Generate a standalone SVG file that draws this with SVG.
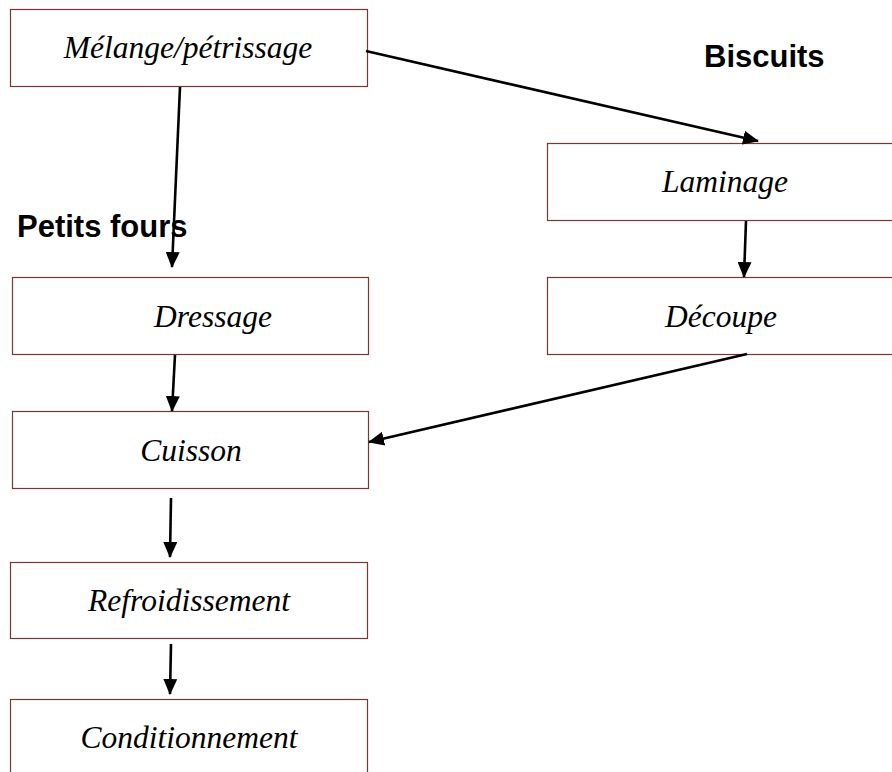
<svg xmlns="http://www.w3.org/2000/svg" width="892" height="772" viewBox="0 0 892 772">
<style>
.box{fill:#fff;stroke:#7a3535;stroke-width:1.2}
.t{font-family:"Liberation Serif","Times New Roman",serif;font-style:italic;font-size:31.5px;fill:#000}
.lab{font-family:"Liberation Sans",Arial,sans-serif;font-weight:bold;font-size:31px;fill:#000}
.c{stroke:#000;stroke-width:2.6;fill:none;marker-end:url(#ah)}
</style>
<defs>
<marker id="ah" markerUnits="userSpaceOnUse" markerWidth="16" markerHeight="14" refX="15" refY="7" orient="auto" viewBox="0 0 16 14">
<path d="M0,0 L16,7 L0,14 z" fill="#000"/>
</marker>
</defs>
<rect width="892" height="772" fill="#fff"/>
<g id="n1"><rect class="box" x="10.5" y="9.5" width="357" height="77"/><text class="t" x="188" y="58" text-anchor="middle">Mélange/pétrissage</text></g>
<g id="n2"><rect class="box" x="547.5" y="143.5" width="360" height="77"/><text class="t" x="725" y="192" text-anchor="middle">Laminage</text></g>
<g id="n3"><rect class="box" x="12.5" y="277.5" width="356" height="77"/><text class="t" x="213" y="327" text-anchor="middle">Dressage</text></g>
<g id="n4"><rect class="box" x="547.5" y="277.5" width="360" height="77"/><text class="t" x="721" y="327" text-anchor="middle">Découpe</text></g>
<g id="n5"><rect class="box" x="12.5" y="411.5" width="356" height="77"/><text class="t" x="191" y="461" text-anchor="middle">Cuisson</text></g>
<g id="n6"><rect class="box" x="10.5" y="562.5" width="357" height="76"/><text class="t" x="189" y="611" text-anchor="middle">Refroidissement</text></g>
<g id="n7"><rect class="box" x="10.5" y="699.5" width="357" height="90"/><text class="t" x="189" y="748" text-anchor="middle">Conditionnement</text></g>
<g id="labels">
<text class="lab" x="704" y="67">Biscuits</text>
<text class="lab" x="17" y="237">Petits fours</text>
</g>
<g id="connectors">
<line class="c" x1="180" y1="87" x2="172" y2="267"/>
<line class="c" x1="366" y1="51" x2="758" y2="141"/>
<line class="c" x1="746" y1="221" x2="744" y2="277"/>
<line class="c" x1="175" y1="355" x2="172" y2="411"/>
<line class="c" x1="747" y1="354" x2="369" y2="442"/>
<line class="c" x1="171" y1="498" x2="170" y2="557"/>
<line class="c" x1="171" y1="644" x2="170" y2="694"/>
</g>
</svg>
